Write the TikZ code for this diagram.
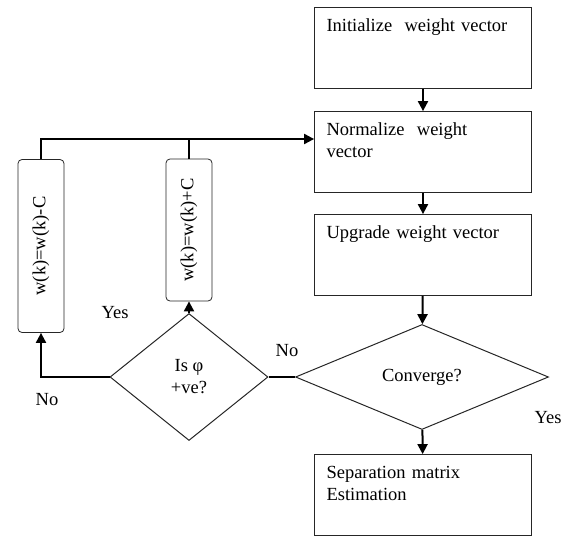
\documentclass[tikz,border=0pt]{standalone}
\usepackage{fontspec}
\setmainfont{Liberation Serif}
\usetikzlibrary{arrows.meta,shapes.geometric}
\tikzset{
  stepbox/.style={draw=black!85, line width=0.8pt, text width=193pt, align=left,
    inner xsep=12pt, inner ysep=8pt, text height=16pt, text depth=49pt},
  decision/.style={diamond, draw=black!85, line width=1pt, inner sep=0pt, align=center},
  update/.style={draw=black!85, line width=0.8pt, rounded corners=4pt,
    minimum width=46pt, inner sep=0pt},
  flow/.style={line width=2pt, -{Triangle[length=10pt,width=10pt]}}
}
\begin{document}
\begin{tikzpicture}[x=1pt, y=-1pt, font=\fontsize{18.5}{22}\selectfont]
\useasboundingbox (0,0) rectangle (568,536);
%main column
\node[stepbox] (init) at (423,48) {Initialize\ \ weight vector};
\node[stepbox] (norm) at (423,152) {Normalize\ \ weight\\vector};
\node[stepbox] (upg) at (423,255) {Upgrade weight vector};
\node[decision, minimum width=253pt, minimum height=105pt] (conv) at (422,377) {Converge?};
\node[stepbox] (sep) at (423,495) {Separation matrix\\Estimation};
%sign test and the two updates
\node[decision, minimum width=158pt, minimum height=127pt] (isphi) at (189,377) {Is φ\\+ve?};
\node[update, minimum height=173pt] (dec) at (41,246) {\rotatebox{90}{w(k)=w(k)-C}};
\node[update, minimum height=142pt] (inc) at (189,230) {\rotatebox{90}{w(k)=w(k)+C}};
\coordinate (bus) at (41,139); %top feedback line
%
\draw[flow] (init) -- (norm);
\draw[flow] (norm) -- (upg);
\draw[flow] (upg) -- (conv);
\draw[flow] (conv) -- (sep);
\draw[line width=1.2pt] (conv.west) -- (isphi.east);
\draw[flow] (isphi.north) -- (inc.south);
\draw[flow] (isphi.west) -| (dec.south);
\draw[flow] (dec.north) |- (norm.west |- bus);
\draw[line width=2pt] (inc.north) -- (inc.north |- bus);
%labels
\node (yes1) at (115,313) {Yes};
\node (no1) at (47,400) {No};
\node (no2) at (287,351) {No};
\node (yes2) at (548,418) {Yes};
\end{tikzpicture}
\end{document}
